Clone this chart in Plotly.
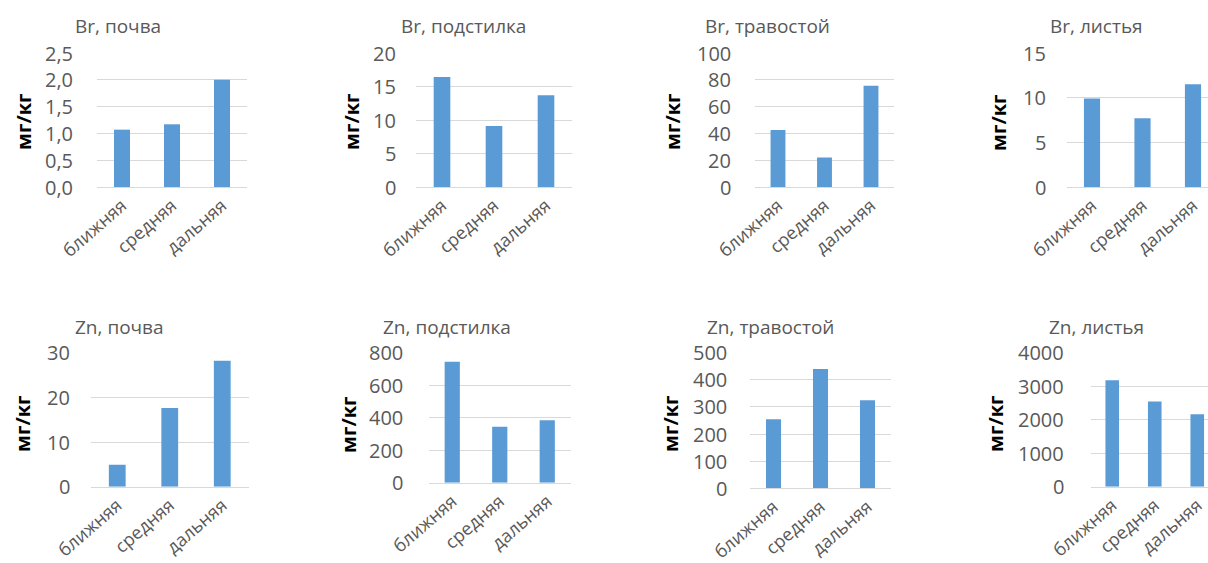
import plotly.graph_objects as go

W, H = 1208, 563

categories = ["ближняя", "средняя", "дальняя"]

br_soil = [1.07, 1.17, 2.0]
br_litter = [16.4, 9.1, 13.7]
br_grass = [42.5, 22.0, 75.6]
br_leaves = [9.9, 7.7, 11.5]
zn_soil = [4.9, 17.6, 28.2]
zn_litter = [745, 345, 385]
zn_grass = [255, 440, 325]
zn_leaves = [3180, 2540, 2160]

titles = ["Br, почва", "Br, подстилка", "Br, травостой", "Br, листья",
          "Zn, почва", "Zn, подстилка", "Zn, травостой", "Zn, листья"]

ticks_br_soil = [0.0, 0.5, 1.0, 1.5, 2.0, 2.5]
ticks_br_litter = [0, 5, 10, 15, 20]
ticks_br_grass = [0, 20, 40, 60, 80, 100]
ticks_br_leaves = [0, 5, 10, 15]
ticks_zn_soil = [0, 10, 20, 30]
ticks_zn_litter = [0, 200, 400, 600, 800]
ticks_zn_grass = [0, 100, 200, 300, 400, 500]
ticks_zn_leaves = [0, 1000, 2000, 3000, 4000]

y_label = "мг/кг"

series = [br_soil, br_litter, br_grass, br_leaves, zn_soil, zn_litter, zn_grass, zn_leaves]
ticks = [ticks_br_soil, ticks_br_litter, ticks_br_grass, ticks_br_leaves,
         ticks_zn_soil, ticks_zn_litter, ticks_zn_grass, ticks_zn_leaves]

# geometry (pixels): x0, spacing per category, y top gridline, y baseline
geom = [
    (97, 50.0, 53, 187),
    (416, 52.0, 53, 187),
    (754.75, 46.5, 53, 187),
    (1066.75, 50.5, 53, 187),
    (91, 52.5, 352.7, 486.7),
    (428.5, 47.5, 352.7, 482.7),
    (750, 47.0, 352.7, 488.3),
    (1091, 42.5, 352.7, 486.7),
]
tick_right = [75, 398, 733, 1048, 72, 405, 729, 1066]
title_pos = [(118, 26), (463, 26), (767, 26), (1096, 26),
             (120, 327), (447, 327), (770, 327), (1096, 327)]
ylab_pos = [(23, 122), (351, 122), (672, 122), (998, 122),
            (22, 424), (348, 424), (670, 424), (995, 424)]

FONT = "Open Sans"
GRAY = "#595959"
BAR = "#5B9BD5"
GRID = "#D9D9D9"

fig = go.Figure()
layout = dict(
    width=W, height=H, margin=dict(l=0, r=0, t=0, b=0),
    paper_bgcolor="white", plot_bgcolor="white", showlegend=False,
    font=dict(family=FONT, size=18, color=GRAY),
    annotations=[],
)


def fmt(v, decimals):
    if decimals:
        return f"{v:.1f}".replace(".", ",")
    return f"{int(v)}"


for i in range(8):
    n = "" if i == 0 else str(i + 1)
    x0, sp, yt, yb = geom[i]
    x1 = x0 + 3 * sp
    rng_end = 2.5
    if x1 > W:
        rng_end = (W - x0) / sp - 0.5
        x1 = W
    tv = ticks[i]
    top = tv[-1]
    dec = any(isinstance(t, float) and not float(t).is_integer() for t in tv)
    fig.add_trace(go.Bar(
        x=categories, y=series[i], marker=dict(color=BAR, line=dict(width=0)),
        width=0.32, xaxis="x" + n, yaxis="y" + n, hoverinfo="x+y",
    ))
    layout["xaxis" + n] = dict(
        domain=[x0 / W, x1 / W], anchor="y" + n, type="category",
        range=[-0.5, rng_end], tickangle=-41, showgrid=False,
        showline=True, linecolor=GRID, linewidth=1, ticks="",
        tickfont=dict(family=FONT, size=18, color=GRAY), fixedrange=True,
        automargin=False,
    )
    layout["yaxis" + n] = dict(
        domain=[1 - yb / H, 1 - yt / H], anchor="x" + n, range=[0, top],
        tickvals=tv, showticklabels=False,
        showgrid=True, gridcolor=GRID, gridwidth=1, zeroline=False,
        showline=False, ticks="", fixedrange=True, automargin=False,
    )
    # y tick labels placed at the axis values
    for t in tv:
        layout["annotations"].append(dict(
            text=fmt(t, dec), x=tick_right[i] / W, y=t, xref="paper", yref="y" + n,
            xanchor="right", yanchor="middle", showarrow=False,
            font=dict(family=FONT, size=20, color=GRAY),
        ))
    tx, ty = title_pos[i]
    layout["annotations"].append(dict(
        text=titles[i], x=tx / W, y=1 - ty / H, xref="paper", yref="paper",
        xanchor="center", yanchor="middle", showarrow=False,
        font=dict(family=FONT, size=19, color=GRAY),
    ))
    lx, ly = ylab_pos[i]
    layout["annotations"].append(dict(
        text="<b>" + y_label + "</b>", x=lx / W, y=1 - ly / H, xref="paper", yref="paper",
        xanchor="center", yanchor="middle", showarrow=False, textangle=-90,
        font=dict(family=FONT, size=20, color="black"),
    ))

fig.update_layout(**layout)
fig.write_html("out.html", config={"displayModeBar": False},
               post_script="document.body.style.margin='0';document.body.style.overflow='hidden';")
